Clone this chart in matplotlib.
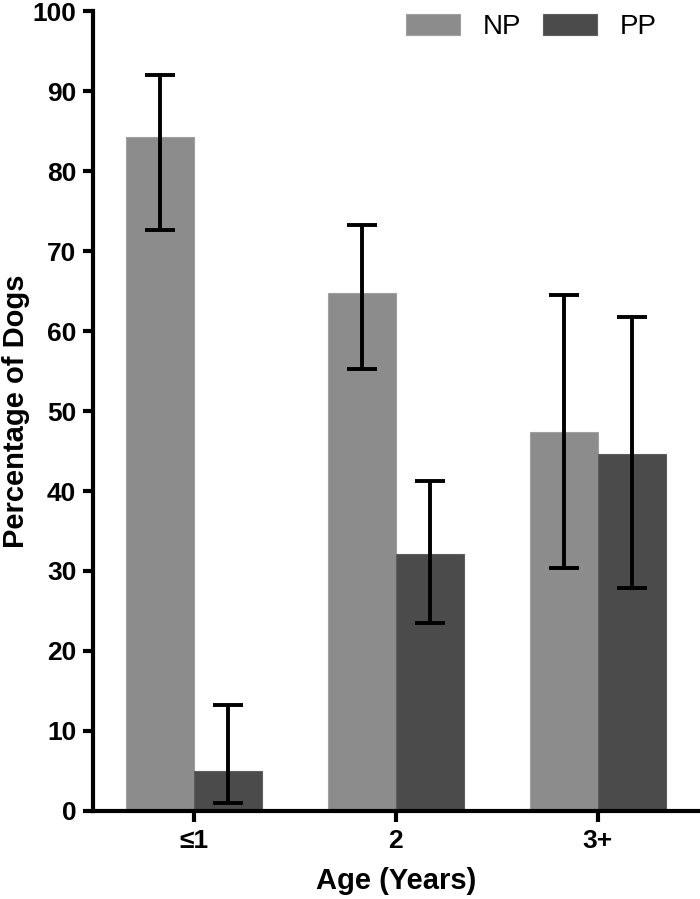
import matplotlib
matplotlib.use("Agg")
import matplotlib.pyplot as plt
from matplotlib.patches import FancyBboxPatch
from matplotlib.legend_handler import HandlerPatch
import numpy as np

categories = ["\u22641", "2", "3+"]
series_names = ["NP", "PP"]
np_values = [84.3, 64.8, 47.4]
np_err_low = [72.6, 55.2, 30.4]
np_err_high = [92.0, 73.3, 64.5]
pp_values = [5.0, 32.1, 44.6]
pp_err_low = [1.0, 23.5, 27.9]
pp_err_high = [13.3, 41.2, 61.8]
y_ticks = [0, 10, 20, 30, 40, 50, 60, 70, 80, 90, 100]

plt.rcParams['font.family'] = ['Liberation Sans', 'DejaVu Sans']


class RoundHandler(HandlerPatch):
    def create_artists(self, legend, orig_handle, xdescent, ydescent, width,
                       height, fontsize, trans):
        p = FancyBboxPatch((-xdescent + 2, -ydescent + 2), width - 4, height - 4,
                           boxstyle="round,pad=2,rounding_size=3",
                           facecolor=orig_handle.get_facecolor(),
                           edgecolor='none', transform=trans)
        return [p]


fig = plt.figure(figsize=(7.0, 8.99), dpi=100)
ax = fig.add_axes([93/700, 1-811/899, 1-93/700 - 0.002, (811-11)/899])

x = np.arange(len(categories))
w = 0.337
colors = ["#8c8c8c", "#4b4b4b"]
edges = ["#a0a0a0", "#5e5e5e"]

bars = []
for i, (vals, lo, hi) in enumerate([(np_values, np_err_low, np_err_high),
                                     (pp_values, pp_err_low, pp_err_high)]):
    pos = x + (i - 0.5) * w
    vals = np.array(vals)
    yerr = np.array([vals - np.array(lo), np.array(hi) - vals])
    b = ax.bar(pos, vals, width=w, color=colors[i], edgecolor=edges[i], linewidth=0.8,
               label=series_names[i], zorder=2)
    bars.append(b)
    ax.errorbar(pos, vals, yerr=yerr, fmt='none', ecolor='black', elinewidth=2.8,
                capsize=11, capthick=2.8, zorder=3)

ax.set_xlim(-0.5, 2.5)
ax.set_ylim(0, 100)
ax.set_yticks(y_ticks)
ax.set_xticks(x)
ax.set_xticklabels(categories)
for s in ['top', 'right']:
    ax.spines[s].set_visible(False)
for s in ['left', 'bottom']:
    ax.spines[s].set_linewidth(3)
ax.tick_params(axis='y', width=3, length=7, labelsize=19, pad=5)
ax.tick_params(axis='x', width=3, length=8, labelsize=19, pad=5)
for lab in ax.get_yticklabels() + ax.get_xticklabels():
    lab.set_fontweight('bold')
ax.set_ylabel("Percentage of Dogs", fontsize=21, fontweight='bold', labelpad=2)
ax.set_xlabel("Age (Years)", fontsize=21, fontweight='bold', labelpad=10)

leg = ax.legend(handles=[bars[0], bars[1]], labels=series_names,
                loc='upper left', bbox_to_anchor=(406/700, 1-14/899),
                bbox_transform=fig.transFigure, ncol=2, frameon=False,
                fontsize=20, handlelength=1.95, handleheight=0.8,
                handletextpad=0.8, columnspacing=0.8, borderpad=0, borderaxespad=0,
                handler_map={type(bars[0][0]): RoundHandler()})

fig.savefig("out.png", dpi=100)
